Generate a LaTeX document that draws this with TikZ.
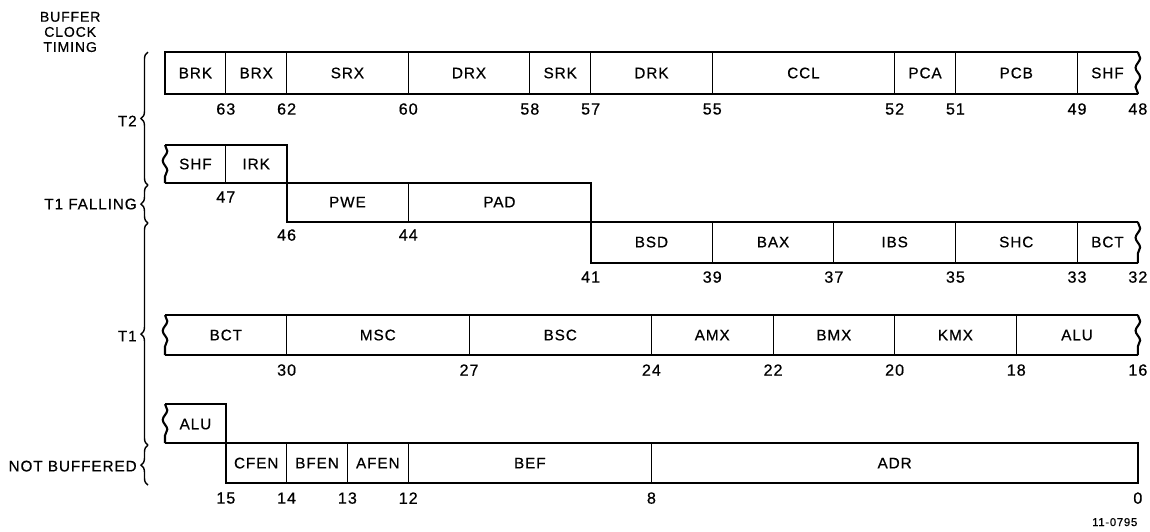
\documentclass[tikz,border=0pt]{standalone}
\usepackage{fontspec}
\setmainfont{Liberation Sans}[LetterSpace=6.0, FakeBold=0.6]
\usetikzlibrary{decorations.pathmorphing,decorations.pathreplacing}
\tikzset{
  frame/.style={line width=1.2pt},
  divider/.style={line width=0.5pt},
  wavy/.style={line width=1.2pt, decorate,
    decoration={snake, amplitude=1.3pt, segment length=11pt}},
  field/.style={font=\fontsize{8.7}{9}\selectfont},
  bitno/.style={font=\fontsize{9.2}{9}\selectfont, inner sep=0pt},
  timing/.style={line width=0.8pt, decorate, decoration={brace, amplitude=4pt}},
  phase/.style={font=\fontsize{8.7}{9}\selectfont, anchor=east, inner sep=0pt},
}
\begin{document}
\begin{tikzpicture}[x=1.216cm, y=-0.02cm]
\useasboundingbox (-2.714,0) rectangle (16.2,531);

% HEADING
\node[align=center, font=\fontsize{8}{8.6}\selectfont] (head) at (-1.56,32)
  {BUFFER\\CLOCK\\TIMING};

% T2
\draw[frame] (16,52) -- (0,52) -- (0,94) -- (16,94);
\draw[wavy] (16,52) -- (16,94);
\foreach \k in {1,2,4,6,7,9,12,13,15}
  \draw[divider] (\k,52) -- (\k,94);
\foreach \a/\b/\t in {0/1/BRK,1/2/BRX,2/4/SRX,4/6/DRX,6/7/SRK,7/9/DRK,
                      9/12/CCL,12/13/PCA,13/15/PCB,15/16/SHF}
  \node[field] (a\t) at ({(\a+\b)/2},73) {\t};
\foreach \k/\n in {1/63,2/62,4/60,6/58,7/57,9/55,12/52,13/51,15/49,16/48}
  \node[bitno] (n\n) at (\k,109) {\n};

% T1 FALLING
\draw[frame] (0,145) -- (2,145) -- (2,183) -- (0,183);
\draw[wavy] (0,145) -- (0,183);
\draw[divider] (1,145) -- (1,183);
\node[field] (bSHF) at (0.5,164) {SHF};
\node[field] (bIRK) at (1.5,164) {IRK};
\node[bitno] (n47) at (1,197) {47};

\draw[frame] (2,183) rectangle (7,222);
\draw[divider] (4,183) -- (4,222);
\node[field] (bPWE) at (3,202) {PWE};
\node[field] (bPAD) at (5.5,202) {PAD};
\node[bitno] (n46) at (2,235) {46};
\node[bitno] (n44) at (4,235) {44};

\draw[frame] (16,222) -- (7,222) -- (7,263) -- (16,263);
\draw[wavy] (16,222) -- (16,263);
\foreach \k in {9,11,13,15}
  \draw[divider] (\k,222) -- (\k,263);
\foreach \a/\b/\t in {7/9/BSD,9/11/BAX,11/13/IBS,13/15/SHC,15/16/BCT}
  \node[field] (b\t) at ({(\a+\b)/2},242) {\t};
\foreach \k/\n in {7/41,9/39,11/37,13/35,15/33,16/32}
  \node[bitno] (n\n) at (\k,277) {\n};

% T1
\draw[frame] (0,315) -- (16,315);
\draw[frame] (0,355) -- (16,355);
\draw[wavy] (0,315) -- (0,355);
\draw[wavy] (16,315) -- (16,355);
\foreach \k in {2,5,8,10,12,14}
  \draw[divider] (\k,315) -- (\k,355);
\foreach \a/\b/\t in {0/2/BCT,2/5/MSC,5/8/BSC,8/10/AMX,10/12/BMX,12/14/KMX,14/16/ALU}
  \node[field] (c\t) at ({(\a+\b)/2},335) {\t};
\foreach \k/\n in {2/30,5/27,8/24,10/22,12/20,14/18,16/16}
  \node[bitno] (n\n) at (\k,370) {\n};

% NOT BUFFERED
\draw[frame] (0,404) -- (1,404) -- (1,443) -- (0,443);
\draw[wavy] (0,404) -- (0,443);
\node[field] (dALU) at (0.5,424) {ALU};

\draw[frame] (1,443) rectangle (16,483);
\foreach \k in {2,3,4,8}
  \draw[divider] (\k,443) -- (\k,483);
\foreach \a/\b/\t in {1/2/CFEN,2/3/BFEN,3/4/AFEN,4/8/BEF,8/16/ADR}
  \node[field] (d\t) at ({(\a+\b)/2},463) {\t};
\foreach \k/\n in {1/15,2/14,3/13,4/12,8/8,16/0}
  \node[bitno] (n\n) at (\k,498) {\n};

% BRACES
\draw[timing] (-0.28,185) -- (-0.28,52);
\draw[timing] (-0.28,223) -- (-0.28,185);
\draw[timing] (-0.28,445) -- (-0.28,223);
\draw[timing] (-0.28,485) -- (-0.28,445);
\node[phase] (pT2) at (-0.46,121) {T2};
\node[phase] (pT1F) at (-0.46,204) {T1 FALLING};
\node[phase] (pT1) at (-0.46,336) {T1};
\node[phase] (pNB) at (-0.46,466) {NOT BUFFERED};

% NOTE
\node[font=\fontsize{6.5}{7}\selectfont] (fig) at (15.62,522) {11-0795};

\end{tikzpicture}
\end{document}
